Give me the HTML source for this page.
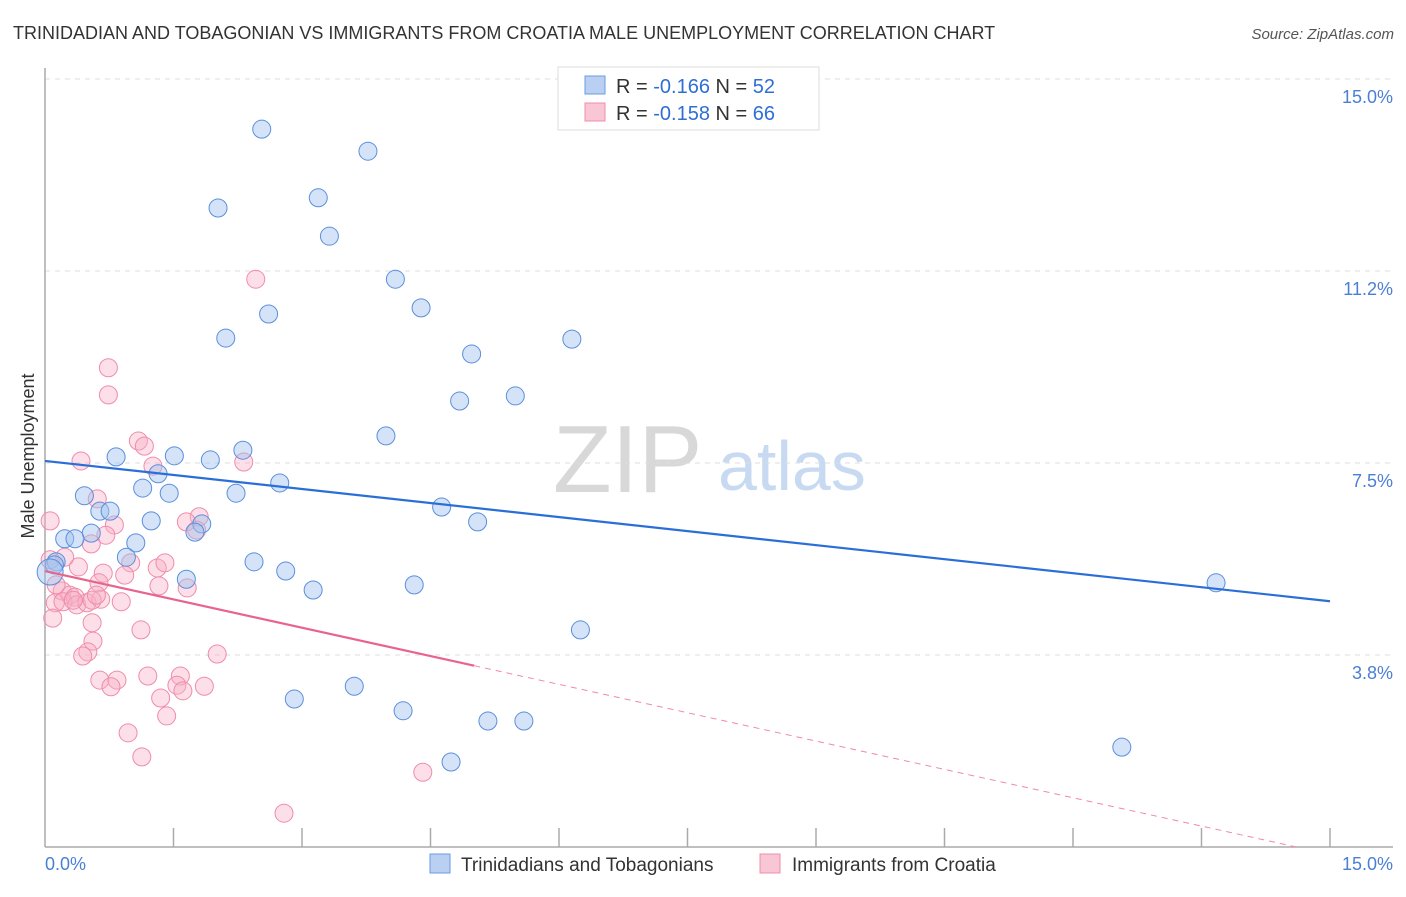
<!DOCTYPE html>
<html><head><meta charset="utf-8">
<style>
body{margin:0;background:#fff;font-family:"Liberation Sans",sans-serif;}
svg text{font-family:"Liberation Sans",sans-serif;}
</style></head>
<body>
<svg id="chart" width="1406" height="892" viewBox="0 0 1406 892" xmlns="http://www.w3.org/2000/svg">
<text x="13" y="39" font-size="18" fill="#333">TRINIDADIAN AND TOBAGONIAN VS IMMIGRANTS FROM CROATIA MALE UNEMPLOYMENT CORRELATION CHART</text>
<text x="1394" y="39" font-size="15" fill="#555" text-anchor="end" font-style="italic">Source: ZipAtlas.com</text>
<text x="553" y="492" font-size="96" fill="#d8d8d8" font-family="Liberation Serif">ZIP</text>
<text x="718" y="490" font-size="70" fill="#c8daf2">atlas</text>
<text transform="translate(34,456) rotate(-90)" font-size="18" fill="#333" text-anchor="middle">Male Unemployment</text>
<g id="grid"></g>
<g id="marks"></g>
<g>
<rect x="558" y="67" width="261" height="63" fill="#fff" stroke="#ddd"/>
<rect x="585" y="76" width="20" height="18" fill="#b9d0f3" stroke="#6a9be0"/>
<rect x="585" y="103" width="20" height="18" fill="#f9c6d5" stroke="#f08cab"/>
<text x="616" y="93" font-size="20" fill="#333">R = <tspan fill="#2e6fd6">-0.166</tspan>   N = <tspan fill="#2e6fd6">52</tspan></text>
<text x="616" y="120" font-size="20" fill="#333">R = <tspan fill="#2e6fd6">-0.158</tspan>   N = <tspan fill="#2e6fd6">66</tspan></text>
</g>
<g>
<rect x="430" y="854" width="20" height="19" fill="#b9d0f3" stroke="#6a9be0"/>
<text x="461" y="871" font-size="19" fill="#333">Trinidadians and Tobagonians</text>
<rect x="760" y="854" width="20" height="19" fill="#f9c6d5" stroke="#f08cab"/>
<text x="792" y="871" font-size="19" fill="#333">Immigrants from Croatia</text>
</g>
</svg>
<script>
const yTicks=[15,11.25,7.5,3.75];
const yTickLabels=["15.0%","11.2%","7.5%","3.8%"];
const xTickLabels=["0.0%","15.0%"];
const blueX=[2.53,3.77,2.02,3.19,3.32,4.09,2.61,4.39,2.11,6.15,4.98,4.84,5.49,3.98,0.83,1.51,1.93,2.31,1.32,2.74,1.14,0.46,1.45,2.23,4.63,0.64,0.76,1.24,5.05,1.83,1.75,0.54,0.23,0.35,1.06,0.95,0.13,0.11,0.06,2.44,2.81,1.65,3.13,4.31,13.67,6.25,2.91,3.61,4.18,5.17,5.59,12.57,4.74];
const blueY=[14.02,13.59,12.48,12.68,11.93,11.09,10.41,10.53,9.94,9.92,9.63,8.71,8.81,8.03,7.62,7.64,7.56,7.75,7.29,7.11,7.01,6.86,6.91,6.91,6.64,6.56,6.56,6.37,6.35,6.31,6.15,6.13,6.02,6.02,5.94,5.66,5.57,5.51,5.37,5.57,5.39,5.23,5.02,5.12,5.16,4.24,2.89,3.14,2.66,2.46,2.46,1.95,1.66];
const pinkX=[1.09,1.16,0.42,1.26,2.32,0.61,0.06,0.81,0.71,0.54,1.80,1.65,1.77,0.39,1.00,0.93,0.68,1.31,1.40,0.63,1.33,1.66,0.20,0.29,0.35,0.12,0.21,0.37,0.49,0.65,0.89,0.09,0.55,1.12,0.56,0.50,0.44,2.01,0.64,0.84,0.77,1.20,1.58,1.54,1.61,1.86,1.35,1.42,0.97,1.13,2.79,0.74,0.74,2.46,4.41,0.06,0.23,0.55,0.33,0.60,0.13];
const pinkY=[7.93,7.83,7.54,7.44,7.52,6.80,6.37,6.29,6.09,5.92,6.45,6.35,6.19,5.47,5.55,5.31,5.35,5.45,5.55,5.16,5.10,5.06,5.00,4.92,4.88,4.77,4.79,4.73,4.77,4.84,4.79,4.47,4.38,4.24,4.02,3.81,3.73,3.77,3.26,3.26,3.13,3.34,3.34,3.16,3.05,3.14,2.91,2.56,2.23,1.76,0.66,9.36,8.83,11.09,1.46,5.61,5.66,4.82,4.82,4.92,5.12];
const blueTrend=[7.54,4.80];      // y at x=0 and x=15
const pinkTrend=[5.39,-0.369];    // intercept, slope
const pinkSolidEnd=5.01;

const NS="http://www.w3.org/2000/svg";
const X0=45,X1=1330,Y0=847,YTOP=79;
const sx=v=>X0+v/15*(X1-X0);
const sy=v=>Y0-v/15*(Y0-YTOP);
function mk(tag,attrs,parent){const e=document.createElementNS(NS,tag);for(const k in attrs)e.setAttribute(k,attrs[k]);parent.appendChild(e);return e;}
const grid=document.getElementById('grid'),marks=document.getElementById('marks');
yTicks.forEach((t,i)=>{
  const l=mk('line',{x1:X0,x2:1393,y1:sy(t),y2:sy(t),stroke:'#ddd','stroke-dasharray':'5,5'},grid);
  
  
  const tx=mk('text',{x:1393,y:sy(t)+24,'font-size':18,fill:'#4a7fd4','text-anchor':'end'},grid);
  tx.textContent=yTickLabels[i];
  
  
});
let ax=mk('line',{x1:X0,x2:X0,y1:68,y2:Y0,stroke:'#aaa','stroke-width':1.5},grid);


ax=mk('line',{x1:X0,x2:1393,y1:Y0,y2:Y0,stroke:'#aaa','stroke-width':1.5},grid);


for(let i=1;i<=10;i++){
  const v=i*1.5;
  const t=mk('line',{x1:sx(v),x2:sx(v),y1:828,y2:Y0,stroke:'#aaa','stroke-width':1.5},grid);
  
  
}
[[0,'start',X0],[1,'end',1393]].forEach(([i,a,x])=>{
  const tx=mk('text',{x:x,y:870,'font-size':18,fill:'#4a7fd4','text-anchor':a},grid);
  tx.textContent=xTickLabels[i];
  
  
});
pinkX.forEach((x,i)=>{
  const c=mk('circle',{cx:sx(x),cy:sy(pinkY[i]),r:9,fill:'rgba(248,175,198,0.4)',stroke:'#f08cab','stroke-width':1},marks);
  
  
});
blueX.forEach((x,i)=>{
  const c=mk('circle',{cx:sx(x),cy:sy(blueY[i]),r:(i===38?13:9),fill:'rgba(160,192,238,0.45)',stroke:'#5b8fdc','stroke-width':1},marks);
  
  
});
let tl=mk('line',{x1:sx(0),y1:sy(blueTrend[0]),x2:sx(15),y2:sy(blueTrend[1]),stroke:'#2a6fd8','stroke-width':2.2},marks);


const pv=x=>pinkTrend[0]+pinkTrend[1]*x;
tl=mk('line',{x1:sx(0),y1:sy(pv(0)),x2:sx(pinkSolidEnd),y2:sy(pv(pinkSolidEnd)),stroke:'#e8648e','stroke-width':2.2},marks);


const xz=-pinkTrend[0]/pinkTrend[1];
const xe=Math.min(15,xz);
tl=mk('line',{x1:sx(pinkSolidEnd),y1:sy(pv(pinkSolidEnd)),x2:sx(xe),y2:sy(pv(xe)),stroke:'#ee8aa8','stroke-width':1,'stroke-dasharray':'6,5'},marks);


</script>
</body></html>
